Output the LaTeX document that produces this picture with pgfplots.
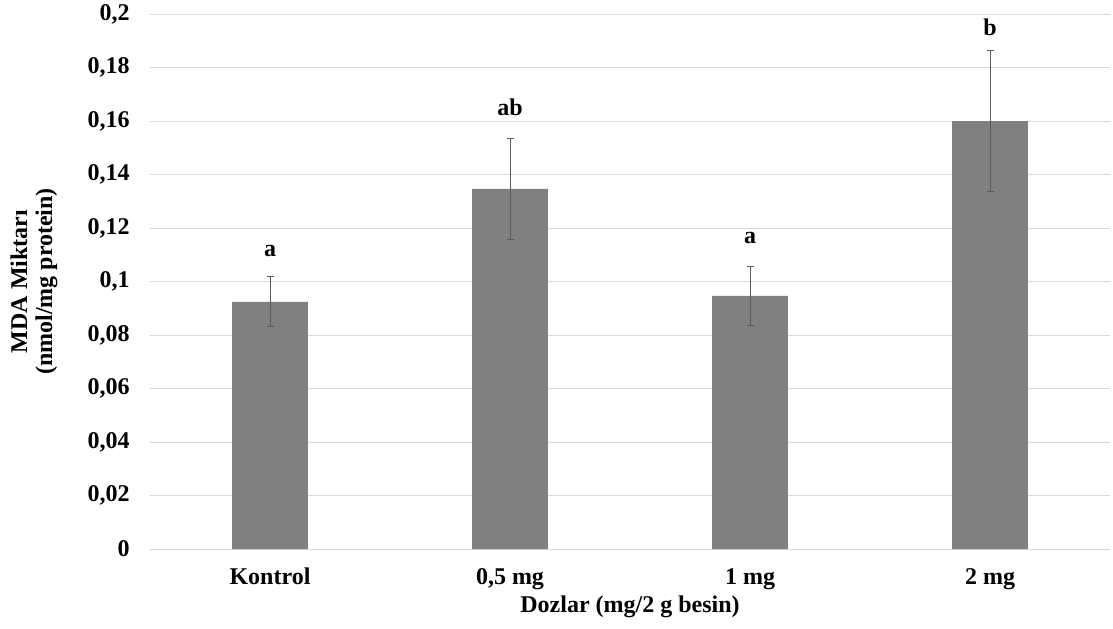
\documentclass[border=0pt]{standalone}
\usepackage{pgfplots}
\pgfplotsset{compat=1.18}
\usepackage{fontspec}
\setmainfont{Liberation Serif}
\definecolor{barc}{RGB}{128,128,128}
\definecolor{gridc}{RGB}{217,217,217}
\definecolor{errc}{RGB}{90,90,90}
\newcommand{\lblfont}{\fontsize{12pt}{12.5pt}\selectfont\bfseries}
\begin{document}
\lblfont
\begin{tikzpicture}
\useasboundingbox (-75pt,-39.5pt) rectangle (481.5pt,274.5pt);
\begin{axis}[
  scale only axis,
  width=480pt, height=267.5pt,
  xmin=-0.5, xmax=3.5,
  ymin=0, ymax=0.2,
  xtick={0,1,2,3},
  xticklabels={Kontrol,{0,5 mg},1 mg,2 mg},
  ytick={0,0.02,0.04,0.06,0.08,0.1,0.12,0.14,0.16,0.18,0.2},
  /pgf/number format/assume math mode=true,
  /pgf/number format/use comma,
  /pgf/number format/fixed,
  /pgf/number format/precision=2,
  major tick length=0pt,
  axis line style={draw=none},
  ymajorgrids,
  grid style={gridc, line width=0.5pt},
  ticklabel style={font=\lblfont},
  yticklabel style={anchor=east, inner sep=0pt, xshift=-10pt},
  xticklabel style={anchor=base, inner sep=0pt, yshift=-17.5pt},
  xlabel={Dozlar (mg/2 g besin)},
  xlabel style={at={(axis description cs:0.5,0)}, anchor=center, yshift=-29pt, font=\lblfont},
  ylabel={MDA Miktarı\\(nmol/mg protein)},
  ylabel style={at={(axis description cs:0,0.5)}, anchor=center, yshift=58pt, align=center, font=\lblfont},
  clip=false,
]
\draw[gridc, line width=0.5pt] (axis cs:-0.5,0) -- (axis cs:3.5,0);
\addplot[ybar, bar width=37.8pt, fill=barc, draw=none,
  error bars/.cd, y dir=both, y explicit,
  error bar style={errc, line width=0.5pt},
  error mark options={errc, mark size=1.75pt, line width=0.5pt, rotate=90}]
  coordinates {
    (0,0.0924) +- (0,0.0093)
    (1,0.1346) +- (0,0.0188)
    (2,0.0946) +- (0,0.0111)
    (3,0.1600) +- (0,0.0264)
  };
\addplot[only marks, mark=none, draw=none,
  point meta=explicit symbolic,
  nodes near coords,
  every node near coord/.append style={anchor=base, inner sep=0pt, font=\lblfont}]
  coordinates {
    (0,0.1093) [a]
    (1,0.1619) [ab]
    (2,0.1143) [a]
    (3,0.1918) [b]
  };
\end{axis}
\end{tikzpicture}
\end{document}
